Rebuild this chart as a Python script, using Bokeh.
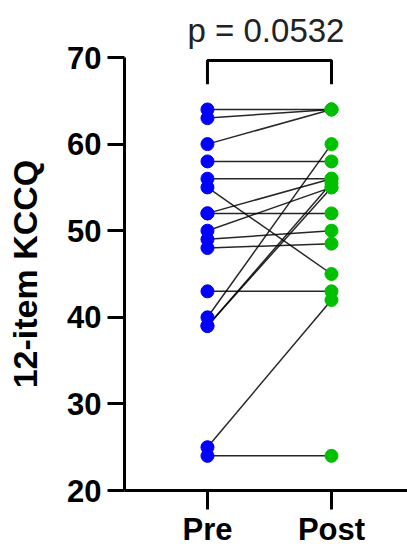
from bokeh.plotting import figure
from bokeh.models import Range1d, FixedTicker, ColumnDataSource
from bokeh.embed import file_html
from bokeh.resources import INLINE

groups = ["Pre", "Post"]
pre = [64, 63, 60, 58, 56, 55, 52, 52, 50, 49, 48, 43, 40, 39, 39, 25, 24]
post = [64, 64, 64, 58, 56, 45, 52, 56, 55, 50, 48.5, 43, 60, 55.5, 55, 42, 24]
p_text = "p = 0.0532"
y_ticks = [20, 30, 40, 50, 60, 70]

FONT = "Liberation Sans"

p = figure(width=407, height=549, output_backend="svg", toolbar_location=None,
           x_range=Range1d(-0.669, 1.613), y_range=Range1d(20, 70),
           min_border_left=124, min_border_right=0, min_border_top=56,
           min_border_bottom=59, title=p_text)
p.outline_line_color = None
p.xgrid.visible = False
p.ygrid.visible = False
p.background_fill_color = "white"
p.border_fill_color = "white"

p.title.align = "center"
p.title.text_font = FONT
p.title.text_font_size = "33px"
p.title.text_font_style = "normal"
p.title.text_color = "#222222"
p.title.standoff = 18

# pair lines
src = ColumnDataSource(dict(xs=[[0, 1] for _ in pre],
                            ys=[[a, b] for a, b in zip(pre, post)]))
p.multi_line("xs", "ys", source=src, line_color="black", line_width=1.5, line_alpha=0.85)

p.scatter([0] * len(pre), pre, size=13, fill_color="#0000FF", line_color="#0000FF")
p.scatter([1] * len(post), post, size=13, fill_color="#00C000", line_color="#00C000")

# significance bracket
p.line([0, 0, 1, 1], [66.9, 69.65, 69.65, 66.9], line_color="black", line_width=3)

# axes
xa = p.xaxis[0]
xa.ticker = FixedTicker(ticks=[0, 1])
xa.major_label_overrides = {0: groups[0], 1: groups[1]}
xa.minor_tick_line_color = None
xa.major_tick_out = 19
xa.major_tick_in = 0
xa.major_label_standoff = 2
xa.major_label_text_font = FONT
xa.major_label_text_font_size = "31px"
xa.major_label_text_font_style = "bold"
xa.major_label_text_color = "black"
xa.axis_line_width = 3
xa.major_tick_line_width = 3

ya = p.yaxis[0]
ya.ticker = FixedTicker(ticks=y_ticks)
ya.minor_tick_line_color = None
ya.major_tick_out = 17
ya.major_tick_in = 0
ya.major_label_standoff = 6
ya.major_label_text_font = FONT
ya.major_label_text_font_size = "31px"
ya.major_label_text_font_style = "bold"
ya.major_label_text_color = "black"
ya.axis_line_width = 3
ya.major_tick_line_width = 3
ya.axis_label = "12-item KCCQ"
ya.axis_label_text_font = FONT
ya.axis_label_text_font_size = "34px"
ya.axis_label_text_font_style = "bold"
ya.axis_label_text_color = "black"
ya.axis_label_standoff = 20

open("out.html", "w").write(file_html(p, INLINE))
